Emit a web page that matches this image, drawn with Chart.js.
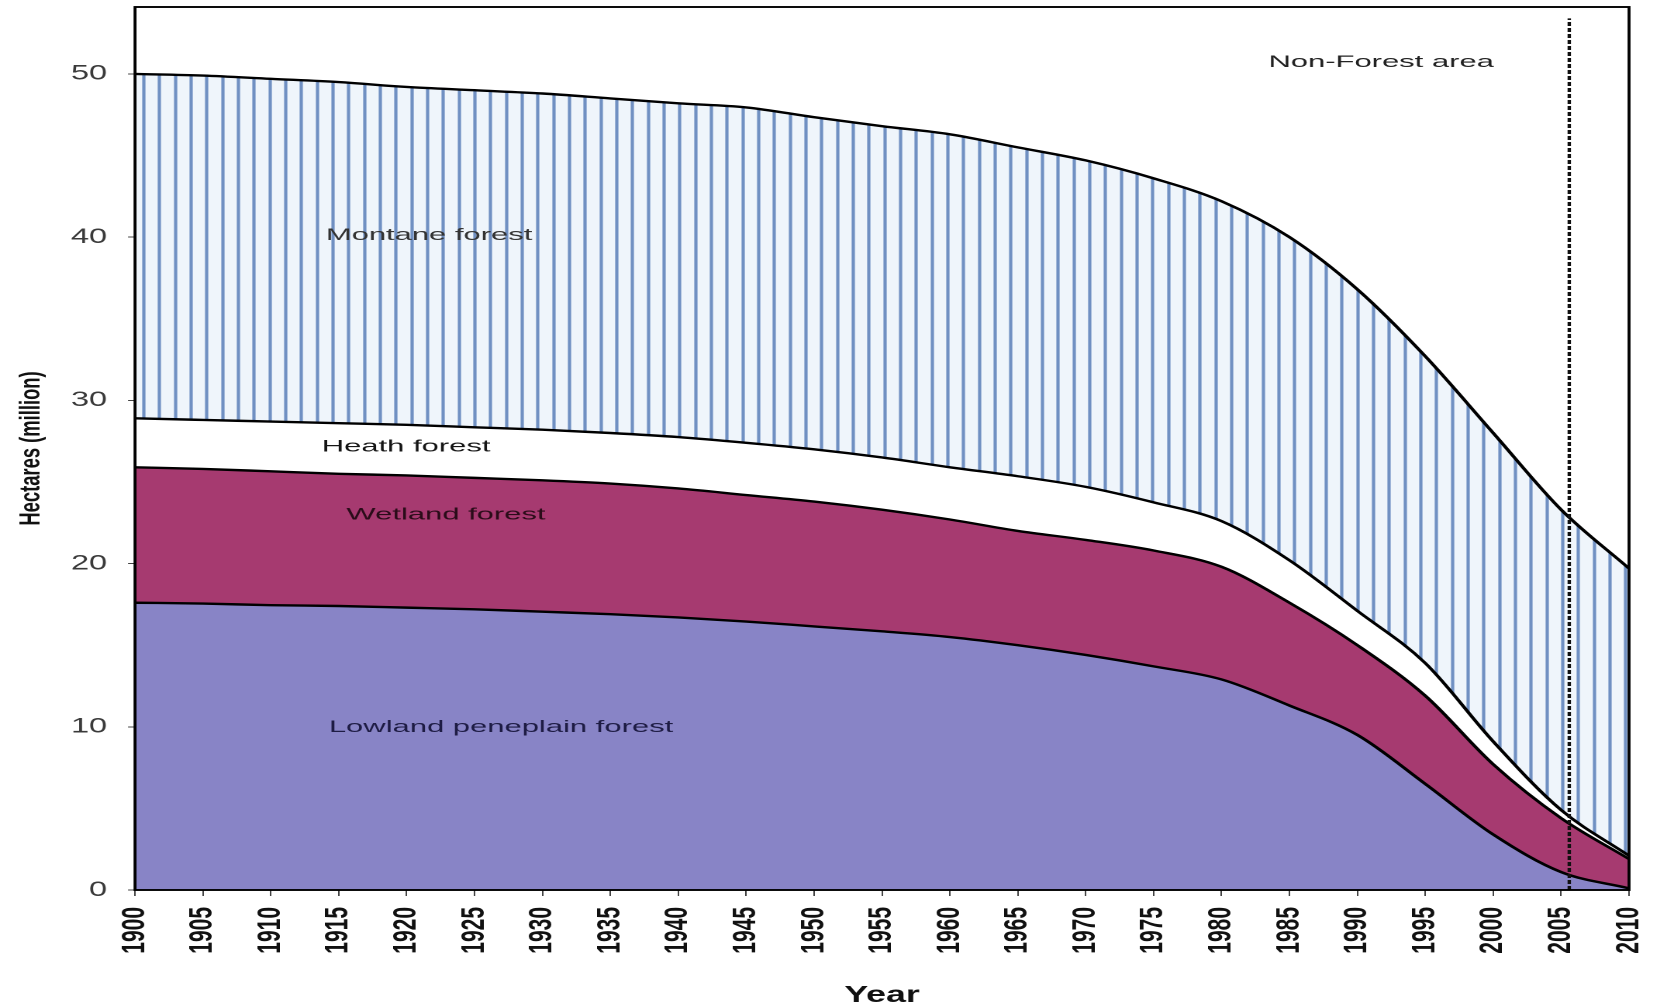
<!DOCTYPE html>
<html><head><meta charset="utf-8">
<script src="https://cdn.jsdelivr.net/npm/chart.js@4.4.0/dist/chart.umd.min.js"></script>
<style>
html,body{margin:0;padding:0;background:#fff;overflow:hidden;width:1653px;height:1007px;}
#wrap{position:absolute;left:0;top:0;width:1066px;height:1007px;transform-origin:0 0;transform:scaleX(1.5507);}
</style></head><body>
<div id="wrap"><canvas id="c" width="1066" height="1007"></canvas></div>
<script>
// ---- data (million hectares per forest type) ----
const years = [1900,1905,1910,1915,1920,1925,1930,1935,1940,1945,1950,1955,1960,1965,1970,1975,1980,1985,1990,1995,2000,2005,2010];
const lowland = [17.6,17.55,17.45,17.4,17.3,17.2,17.05,16.9,16.7,16.45,16.15,15.85,15.5,15.0,14.4,13.7,12.9,11.3,9.5,6.5,3.4,1.1,0.1];
const wetland = [8.3,8.25,8.2,8.1,8.1,8.05,8.05,8.0,7.9,7.75,7.65,7.45,7.2,7.0,7.05,7.1,6.9,6.3,5.5,5.4,4.3,3.3,1.8];
const heath   = [3.0,3.0,3.05,3.1,3.1,3.1,3.1,3.1,3.15,3.2,3.2,3.2,3.2,3.35,3.25,2.95,2.8,2.6,2.1,2.0,1.4,0.5,0.2];
const montane = [21.1,21.1,21.0,20.9,20.7,20.65,20.6,20.5,20.45,20.55,20.35,20.3,20.4,20.15,20.0,19.85,19.6,19.8,19.7,18.8,18.9,18.4,17.6];
const yTickValues = [0,10,20,30,40,50];
const markerYear = 2005.6;
const markerTop = 53.4;
const areaNames = ['Lowland peneplain forest','Wetland forest','Heath forest','Montane forest','Non-Forest area'];

// ---- build cumulative boundaries for the library ----
const layers = [lowland, wetland, heath, montane];
const cum = [];
let run = years.map(() => 0);
layers.forEach(l => { run = run.map((v, i) => v + l[i]); cum.push(run.slice()); });

const FAMILY = '"Liberation Sans", Arial, Helvetica, sans-serif';
const canvas = document.getElementById('c');
const cctx = canvas.getContext('2d');

function stripePattern() {
  const t = document.createElement('canvas');
  t.width = 61; t.height = 4;
  const g = t.getContext('2d');
  g.fillStyle = '#eff5fb'; g.fillRect(0, 0, 61, 4);
  [0, 20, 41].forEach(p => {
    g.fillStyle = '#a3b9da'; g.fillRect(p, 0, 1, 4); g.fillRect(p + 4, 0, 1, 4);
    g.fillStyle = '#7090c2'; g.fillRect(p + 1, 0, 3, 4);
  });
  const pat = cctx.createPattern(t, 'repeat');
  pat.setTransform(new DOMMatrix([0.5, 0, 0, 0.5, 0, 0]));
  return pat;
}

const styles = [
  {bg: '#8884c6', fill: 'origin'},
  {bg: '#a63a70', fill: '-1'},
  {bg: '#ffffff', fill: '-1'},
  {bg: stripePattern(), fill: '-1'}
];

const datasets = cum.map((c, i) => ({
  label: areaNames[i],
  data: years.map((y, k) => ({x: y, y: c[k]})),
  borderColor: '#000',
  borderWidth: 2.4,
  backgroundColor: styles[i].bg,
  fill: styles[i].fill,
  pointRadius: 0,
  cubicInterpolationMode: 'monotone',
  order: 1
}));
datasets.push({
  label: 'marker',
  data: [{x: markerYear, y: 0}, {x: markerYear, y: markerTop}],
  borderColor: '#111',
  borderWidth: 2.2,
  borderDash: [4, 2],
  fill: false,
  pointRadius: 0,
  tension: 0,
  order: -1
});

const labelPlacements = [
  {text: areaNames[4], x: 1991.75, y: 50.7, color: '#222'},
  {text: areaNames[3], x: 1921.65, y: 40.1, color: '#333'},
  {text: areaNames[2], x: 1919.96, y: 27.15, color: '#151515'},
  {text: areaNames[1], x: 1922.9, y: 22.98, color: '#2a0c19'},
  {text: areaNames[0], x: 1926.95, y: 9.95, color: '#1e1c44'}
];

const framePlugin = {
  id: 'frameAndLabels',
  afterDatasetsDraw(chart) {
    const {ctx, chartArea: a} = chart;
    ctx.save();
    ctx.strokeStyle = '#000';
    ctx.lineWidth = 1.9;
    ctx.strokeRect(a.left, a.top, a.right - a.left, a.bottom - a.top);
    ctx.restore();
  },
  afterDraw(chart) {
    const {ctx, scales} = chart;
    ctx.save();
    ctx.font = '16.8px ' + FAMILY;
    ctx.textAlign = 'center';
    ctx.textBaseline = 'middle';
    labelPlacements.forEach(l => {
      const px = scales.x.getPixelForValue(l.x);
      const py = scales.y.getPixelForValue(l.y);
      ctx.save();
      ctx.translate(px, py);
      ctx.scale(1.19, 1);
      ctx.fillStyle = l.color;
      ctx.fillText(l.text, 0, 0);
      ctx.restore();
    });
    ctx.restore();
  }
};

new Chart(canvas, {
  type: 'line',
  data: {datasets},
  options: {
    responsive: false,
    animation: false,
    devicePixelRatio: 2,
    layout: {padding: {left: 0, right: 15.5, top: 7, bottom: 0}},
    plugins: {
      legend: {display: false},
      tooltip: {enabled: false},
      filler: {drawTime: 'beforeDatasetsDraw'}
    },
    scales: {
      x: {
        type: 'linear', min: 1900, max: 2010,
        afterBuildTicks: s => { s.ticks = years.map(v => ({value: v})); },
        afterFit: s => { s.height = 117; s.paddingLeft = 0; s.paddingRight = 0; },
        ticks: {autoSkip: false, minRotation: 90, maxRotation: 90, padding: 11, color: '#111',
                font: {family: FAMILY, size: 21, weight: 'bold'}, callback: v => String(v)},
        grid: {display: true, drawOnChartArea: false, drawTicks: true, tickLength: 6, tickColor: '#444', tickWidth: 1},
        border: {display: false},
        title: {display: true, text: 'Year', color: '#111',
                font: {family: FAMILY, size: 23, weight: 'bold', lineHeight: 1}, padding: {top: 0, bottom: 0}}
      },
      y: {
        type: 'linear', min: 0, max: 54.1,
        afterBuildTicks: s => { s.ticks = yTickValues.map(v => ({value: v})); },
        afterFit: s => { s.width = 87.06; s.paddingTop = 0; s.paddingBottom = 0; },
        ticks: {padding: 13.5, color: '#3a3a3a', font: {family: FAMILY, size: 21}, callback: v => String(v)},
        grid: {display: true, drawOnChartArea: false, drawTicks: true, tickLength: 4.5, tickColor: '#444', tickWidth: 1},
        border: {display: false},
        title: {display: true, text: 'Hectares (million)', color: '#111',
                font: {family: FAMILY, size: 18.4, weight: 'bold'}, padding: {top: 9.6, bottom: 0}}
      }
    }
  },
  plugins: [framePlugin]
});
</script>
</body></html>
